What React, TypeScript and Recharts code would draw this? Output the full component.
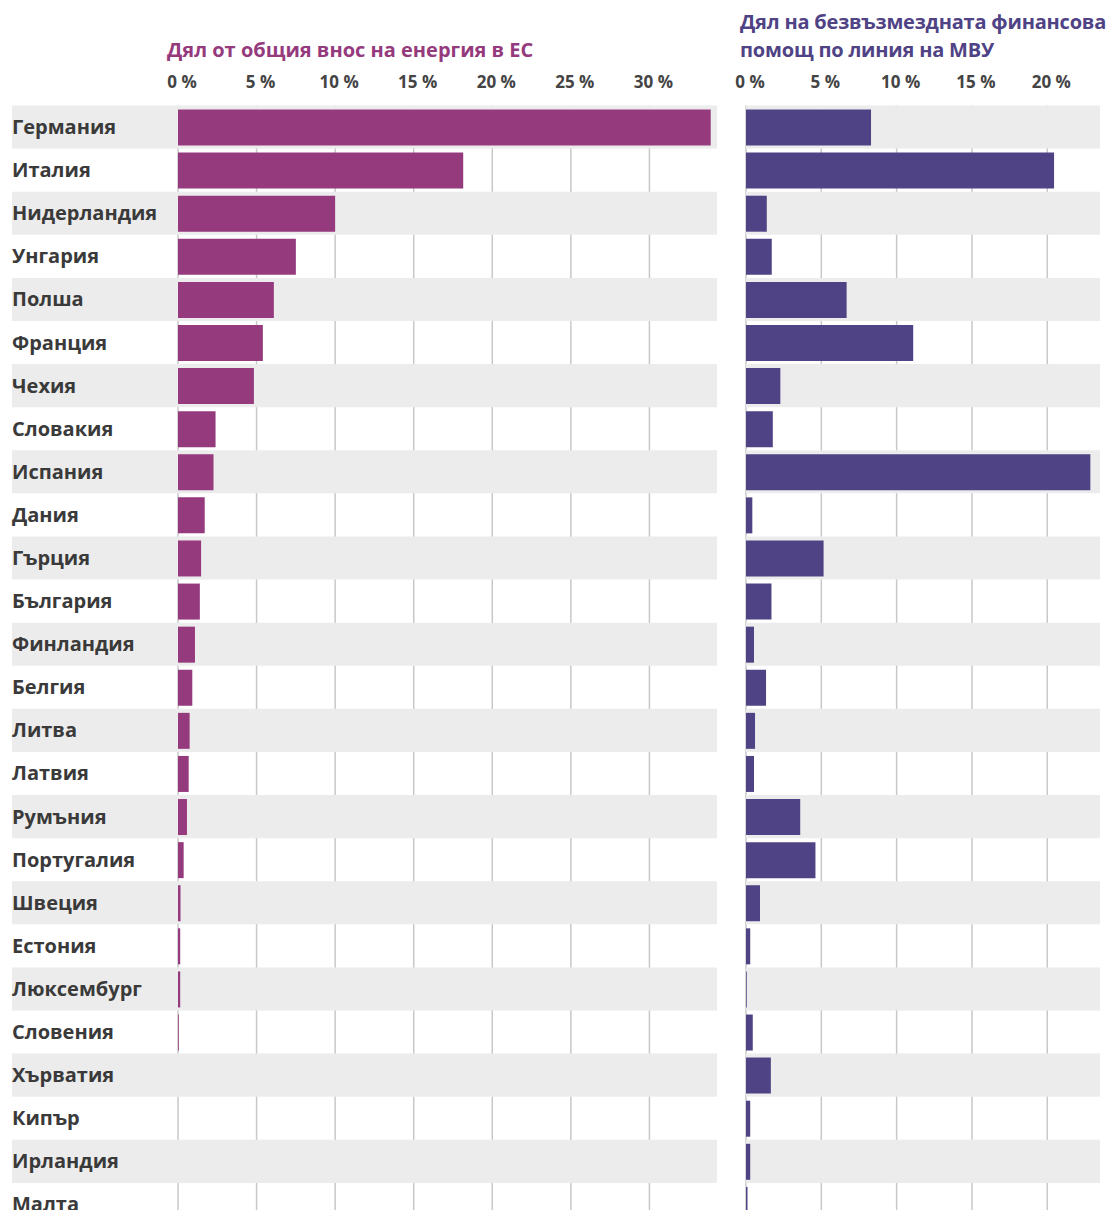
import { BarChart, Bar, XAxis, YAxis, CartesianGrid, ReferenceArea } from 'recharts'

const countries = [
  'Германия', 'Италия', 'Нидерландия', 'Унгария', 'Полша', 'Франция', 'Чехия',
  'Словакия', 'Испания', 'Дания', 'Гърция', 'България', 'Финландия', 'Белгия',
  'Литва', 'Латвия', 'Румъния', 'Португалия', 'Швеция', 'Естония', 'Люксембург',
  'Словения', 'Хърватия', 'Кипър', 'Ирландия', 'Малта',
]

// share of total EU energy imports, %
const energyShare = [
  33.9, 18.15, 10.0, 7.5, 6.1, 5.4, 4.83, 2.39, 2.26, 1.7, 1.47, 1.39, 1.08,
  0.91, 0.74, 0.68, 0.57, 0.36, 0.16, 0.14, 0.14, 0.05, 0, 0, 0, 0,
]

// share of MFA grant support, %
const mfaShare = [
  8.3, 20.45, 1.38, 1.71, 6.68, 11.1, 2.28, 1.78, 22.86, 0.42, 5.15, 1.69, 0.53,
  1.33, 0.6, 0.53, 3.6, 4.61, 0.93, 0.28, 0.05, 0.45, 1.65, 0.28, 0.28, 0.1,
]

const leftTicks = [0, 5, 10, 15, 20, 25, 30]
const rightTicks = [0, 5, 10, 15, 20]

const LEFT_MAX = 34.3
const RIGHT_MAX = 23.5

const leftTitle = 'Дял от общия внос на енергия в ЕС'
const rightTitle = ['Дял на безвъзмездната финансова', 'помощ по линия на МВУ']

const FONT = '"Open Sans", "DejaVu Sans", sans-serif'
const PURPLE = '#953a7d'
const VIOLET = '#4f4385'
const BAND = '#ececec'
const GRID = '#c8c8c8'

const CHART_H = 1218
const TOP = 97.5
const LABEL_W = 166
const LEFT_PLOT_W = 539

const data = countries.map((country, i) => ({
  country,
  energy: energyShare[i],
  mfa: mfaShare[i],
}))

const shaded = countries.filter((_, i) => i % 2 === 0)

const PctTick = ({ x, y, payload }: any) => (
  <text
    x={x}
    y={y}
    dx={4}
    dy={-10}
    textAnchor="middle"
    fill="#444"
    style={{ fontFamily: FONT, fontWeight: 700, fontSize: 17 }}
  >
    {payload.value} %
  </text>
)

const CountryTick = ({ y, payload }: any) => (
  <text
    x={4}
    y={y}
    dy={7}
    textAnchor="start"
    fill="#3a3a3a"
    style={{ fontFamily: FONT, fontWeight: 700, fontSize: 20 }}
  >
    {payload.value}
  </text>
)

export default function App() {
  // band left edge reaches under the country labels
  const bandStart = -LABEL_W * (LEFT_MAX / LEFT_PLOT_W)

  return (
    <div
      style={{
        position: 'relative',
        width: 1108,
        height: CHART_H,
        marginBottom: -16,
        background: '#fff',
        fontFamily: FONT,
      }}
    >
      <div
        style={{
          position: 'absolute',
          left: 159,
          top: 32,
          fontSize: 20,
          lineHeight: '20px',
          fontWeight: 700,
          color: PURPLE,
          whiteSpace: 'nowrap',
        }}
      >
        {leftTitle}
      </div>
      <div
        style={{
          position: 'absolute',
          left: 732,
          top: 0,
          fontSize: 20,
          lineHeight: '28px',
          fontWeight: 700,
          color: VIOLET,
          letterSpacing: -0.2,
          whiteSpace: 'nowrap',
        }}
      >
        {rightTitle.map((t) => (
          <div key={t}>{t}</div>
        ))}
      </div>

      <div style={{ position: 'absolute', left: 0, top: 0, display: 'flex' }}>
        <BarChart
          width={4 + LABEL_W + LEFT_PLOT_W}
          height={CHART_H}
          data={data}
          layout="vertical"
          margin={{ top: TOP - 30, right: 0, bottom: 0, left: 4 }}
        >
          {shaded.map((c) => (
            <ReferenceArea
              key={c}
              y1={c}
              y2={c}
              x1={bandStart}
              x2={LEFT_MAX}
              ifOverflow="visible"
              fill={BAND}
              fillOpacity={1}
              stroke="none"
            />
          ))}
          <CartesianGrid
            horizontal={false}
            verticalValues={leftTicks}
            stroke={GRID}
            strokeWidth={1.5}
          />
          <XAxis
            type="number"
            orientation="top"
            domain={[0, LEFT_MAX]}
            ticks={leftTicks}
            height={30}
            axisLine={false}
            tickLine={false}
            tick={<PctTick />}
          />
          <YAxis
            type="category"
            dataKey="country"
            width={LABEL_W}
            axisLine={false}
            tickLine={false}
            interval={0}
            tick={<CountryTick />}
          />
          <Bar dataKey="energy" fill={PURPLE} barSize={36} isAnimationActive={false} />
        </BarChart>

        <BarChart
          width={391}
          height={CHART_H}
          data={data}
          layout="vertical"
          margin={{ top: TOP - 30, right: 8, bottom: 0, left: 29 }}
        >
          {shaded.map((c) => (
            <ReferenceArea
              key={c}
              y1={c}
              y2={c}
              x1={0}
              x2={RIGHT_MAX}
              ifOverflow="visible"
              fill={BAND}
              fillOpacity={1}
              stroke="none"
            />
          ))}
          <CartesianGrid
            horizontal={false}
            verticalValues={rightTicks}
            stroke={GRID}
            strokeWidth={1.5}
          />
          <XAxis
            type="number"
            orientation="top"
            domain={[0, RIGHT_MAX]}
            ticks={rightTicks}
            height={30}
            axisLine={false}
            tickLine={false}
            tick={<PctTick />}
          />
          <YAxis type="category" dataKey="country" hide />
          <Bar dataKey="mfa" fill={VIOLET} barSize={36} isAnimationActive={false} />
        </BarChart>
      </div>
    </div>
  )
}
